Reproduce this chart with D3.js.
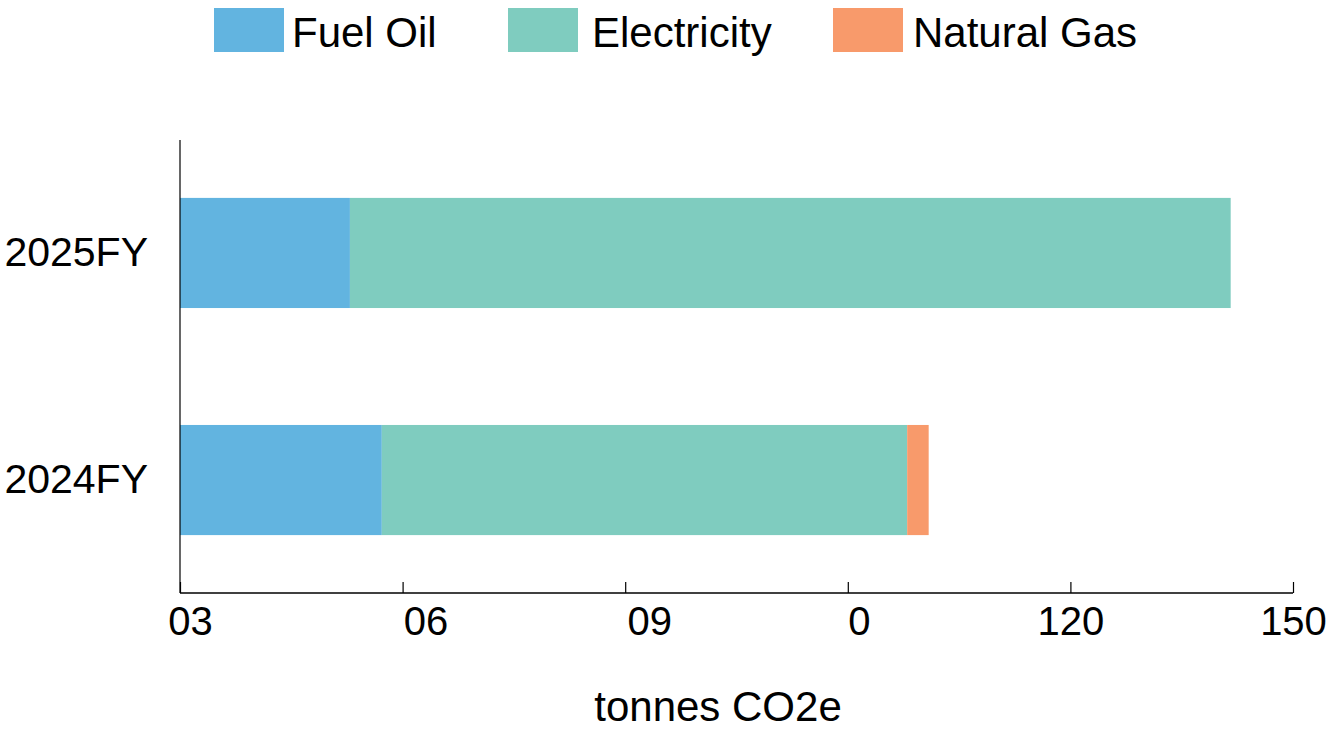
<!DOCTYPE html>
<html>
<head>
<meta charset="utf-8">
<script src="https://cdn.jsdelivr.net/npm/d3@7"></script>
<style>
  html, body { margin: 0; padding: 0; background: #fff; }
  svg text { font-family: "Liberation Sans", Arial, Helvetica, sans-serif; fill: #000; }
</style>
</head>
<body>
<svg id="chart" width="1344" height="731"></svg>
<script>
// Emissions by source, tonnes CO2e
const years = ["2025FY", "2024FY"];
const sources = ["Fuel Oil", "Electricity", "Natural Gas"];
const fuelOil = [22.9, 27.2];
const electricity = [118.7, 70.8];
const naturalGas = [0, 2.9];
const colors = ["#62b4e0", "#7fccbf", "#f89a6b"];
const tickValues = [0, 30, 60, 90, 120, 150];
const tickLabels = ["03", "06", "09", "0", "120", "150"];
const axisTitle = "tonnes CO2e";

// horizontal nudges applied to the tick labels
const tickNudge = [10, 23, 24, 11, 0, 0];

const svg = d3.select("#chart");
const plotLeft = 180, plotRight = 1293, plotTop = 140, plotBottom = 593;

const x = d3.scaleLinear().domain([0, 150]).range([plotLeft, plotRight]);
const y = d3.scaleBand().domain(years).range([plotTop, plotBottom])
  .paddingInner(0.515).paddingOuter(0.255);

const rows = years.map((yr, i) => ({
  year: yr, "Fuel Oil": fuelOil[i], "Electricity": electricity[i], "Natural Gas": naturalGas[i]
}));
const stacked = d3.stack().keys(sources)(rows);

svg.append("g").selectAll("g").data(stacked).join("g")
  .attr("fill", (d, i) => colors[i])
  .selectAll("rect").data(d => d).join("rect")
  .attr("x", d => x(d[0]))
  .attr("width", d => Math.max(0, x(d[1]) - x(d[0])))
  .attr("y", d => y(d.data.year))
  .attr("height", y.bandwidth());

// x axis with inward ticks
const xAxis = svg.append("g").attr("transform", `translate(0,${plotBottom})`)
  .call(d3.axisBottom(x).tickValues(tickValues).tickSizeInner(-11).tickSizeOuter(0)
    .tickFormat((d, i) => tickLabels[i]));
xAxis.select(".domain").attr("stroke", "#000").attr("stroke-width", 1.5)
  .attr("d", `M${plotLeft},0H${plotRight}`);
xAxis.selectAll(".tick line").attr("stroke", "#000").attr("stroke-width", 1.2);
xAxis.selectAll(".tick text")
  .attr("font-size", 40).attr("y", 14).attr("dy", "0.71em")
  .attr("dx", (d, i) => tickNudge[i])
  .attr("fill", "#000");

// y axis
const yAxis = svg.append("g").attr("transform", `translate(${plotLeft},0)`)
  .call(d3.axisLeft(y).tickSize(0).tickPadding(32));
yAxis.select(".domain").attr("stroke", "#000").attr("stroke-width", 1.2)
  .attr("d", `M0,${plotTop}V${plotBottom}`);
yAxis.selectAll(".tick text").attr("font-size", 41).attr("fill", "#000");

// axis title
svg.append("text").attr("x", 718).attr("y", 721)
  .attr("text-anchor", "middle").attr("font-size", 42).text(axisTitle);

// legend
const legendX = [214, 508, 833];
const legendTextX = [292, 592, 913];
const legend = svg.append("g").selectAll("g").data(sources).join("g");
legend.append("rect")
  .attr("x", (d, i) => legendX[i]).attr("y", 8)
  .attr("width", 70).attr("height", 44).attr("fill", (d, i) => colors[i]);
legend.append("text")
  .attr("x", (d, i) => legendTextX[i]).attr("y", 47)
  .attr("font-size", 42).text(d => d);
</script>
</body>
</html>
